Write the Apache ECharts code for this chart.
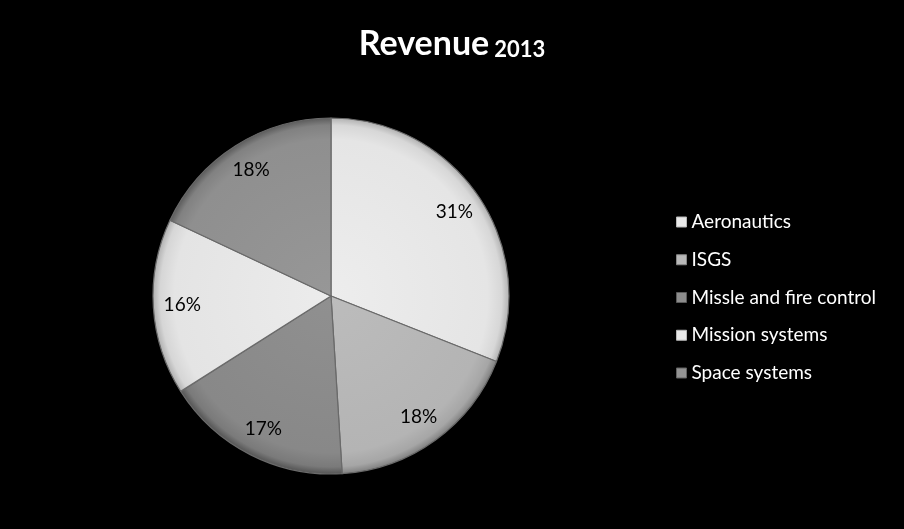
<!DOCTYPE html>
<html>
<head>
<meta charset="utf-8">
<script src="https://cdn.jsdelivr.net/npm/echarts@6/dist/echarts.min.js"></script>
<style>
html,body{margin:0;padding:0;background:#000;}
#chart{width:904px;height:529px;}
</style>
</head>
<body>
<div id="chart"></div>
<script>
const categories = ['Aeronautics', 'ISGS', 'Missle and fire control', 'Mission systems', 'Space systems'];
const shares = [31, 18, 17, 16, 18];
const sliceColors = ['#e9e9e9', '#b8b8b8', '#8c8c8c', '#e8e8e8', '#939393'];

function shade(hex, amt) {
  const n = parseInt(hex.slice(1), 16);
  let r = (n >> 16) & 255, g = (n >> 8) & 255, b = n & 255;
  r = Math.max(0, Math.min(255, r + amt));
  g = Math.max(0, Math.min(255, g + amt));
  b = Math.max(0, Math.min(255, b + amt));
  return 'rgb(' + r + ',' + g + ',' + b + ')';
}

const chart = echarts.init(document.getElementById('chart'));
const cx = 331, cy = 296, R = 178;

chart.setOption({
  backgroundColor: '#000',
  animation: false,
  title: {
    text: '{a|Revenue} {b|2013}',
    left: 'center',
    top: 22,
    textStyle: {
      rich: {
        a: { fontFamily: 'Lato', fontWeight: 'bold', fontSize: 34, color: '#fff' },
        b: { fontFamily: 'Lato', fontWeight: 'bold', fontSize: 22, color: '#fff', verticalAlign: 'bottom', padding: [9, 0, 0, 0] }
      }
    }
  },
  legend: {
    orient: 'vertical',
    left: 676,
    top: 211,
    padding: 0,
    icon: 'rect',
    itemWidth: 10,
    itemHeight: 10,
    itemGap: 15.75,
    itemTextGap: 5,
    textStyle: { color: '#fff', fontFamily: 'Lato', fontSize: 19, lineHeight: 22 },
    data: categories.map((name, i) => ({
      name: name,
      itemStyle: { color: sliceColors[i], borderColor: shade(sliceColors[i], -50), borderWidth: 1 }
    }))
  },
  series: [{
    type: 'pie',
    center: [cx, cy],
    radius: R,
    startAngle: 90,
    clockwise: true,
    data: categories.map((name, i) => ({
      name: name,
      value: shares[i],
      itemStyle: {
        color: {
          type: 'radial', x: cx, y: cy, r: R, global: true,
          colorStops: [
            { offset: 0, color: shade(sliceColors[i], 4) },
            { offset: 0.88, color: shade(sliceColors[i], -4) },
            { offset: 0.96, color: shade(sliceColors[i], -18) },
            { offset: 1, color: shade(sliceColors[i], -55) }
          ]
        }
      }
    })),
    itemStyle: { borderColor: '#6a6a6a', borderWidth: 1.2 },
    label: {
      show: true,
      position: 'inside',
      formatter: '{c}%',
      color: '#000',
      fontFamily: 'Lato',
      fontSize: 19
    },
    labelLine: { show: false },
    labelLayout: function (p) {
      const lx = p.labelRect.x + p.labelRect.width / 2;
      const ly = p.labelRect.y + p.labelRect.height / 2;
      const k = 1.62;
      return { x: cx + (lx - cx) * k, y: cy + (ly - cy) * k, align: 'center', verticalAlign: 'middle' };
    },
    emphasis: { disabled: true }
  }]
});
</script>
</body>
</html>
